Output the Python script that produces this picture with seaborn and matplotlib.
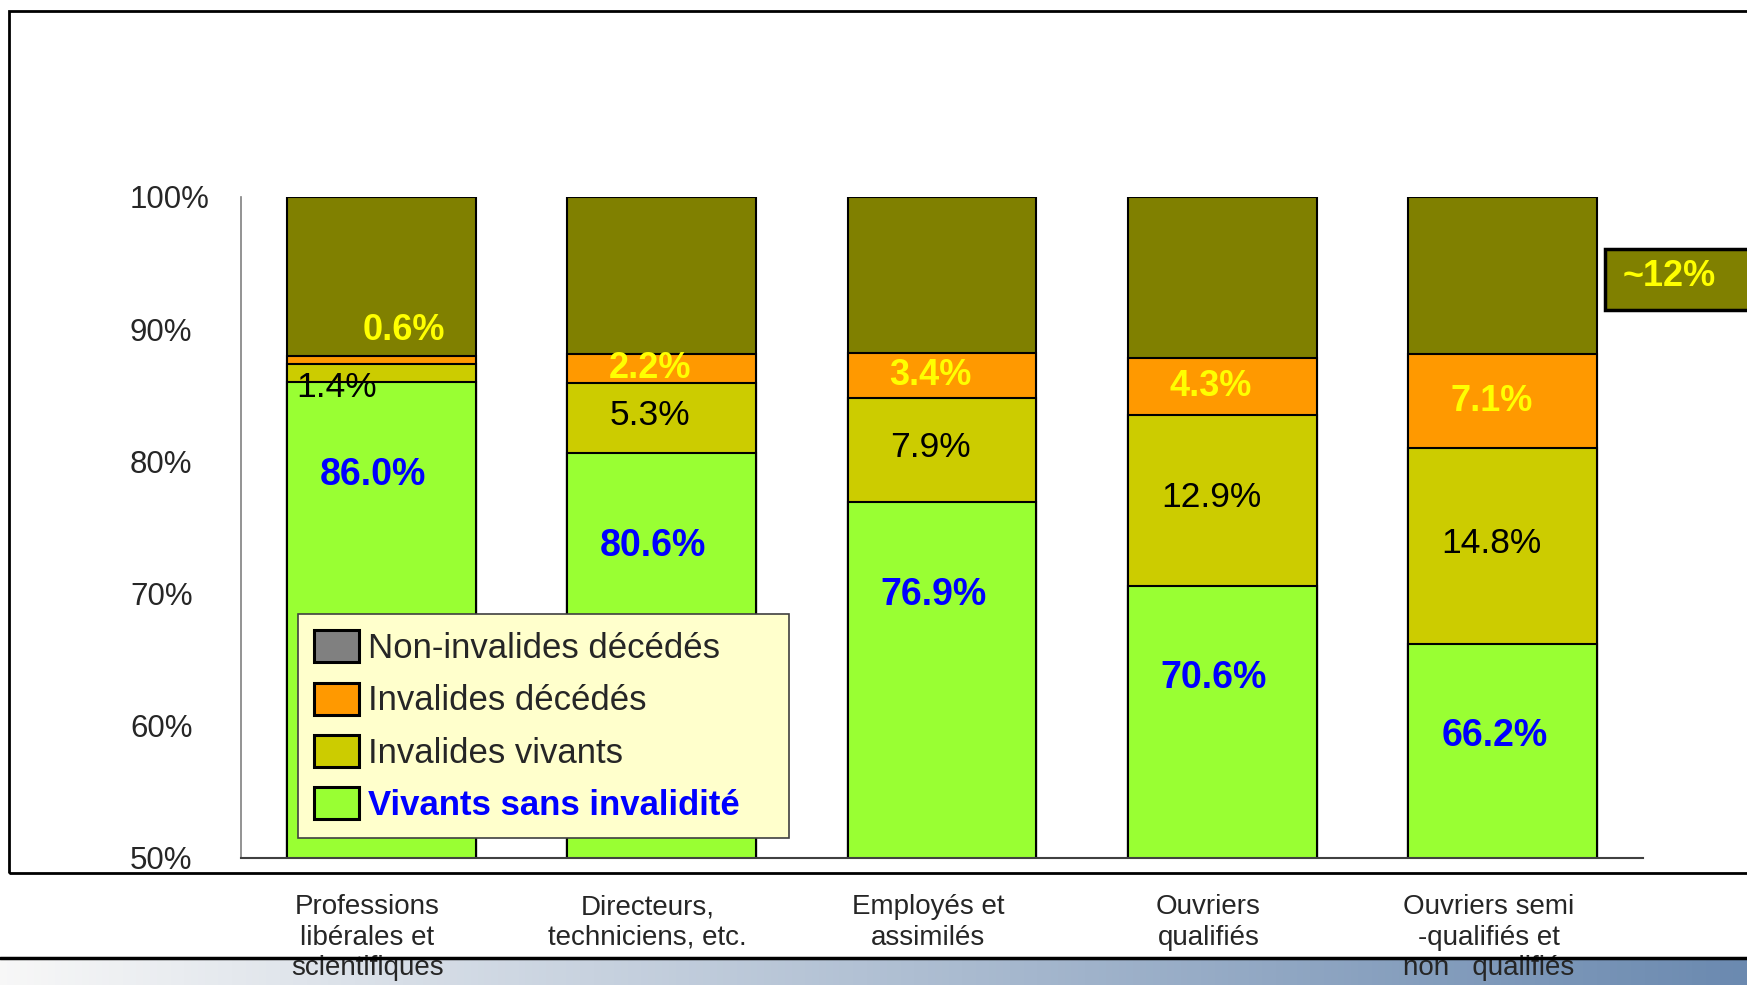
import numpy as np
import pandas as pd
import matplotlib.pyplot as plt
import matplotlib.transforms as mtransforms
import seaborn as sns
from matplotlib.patches import Patch, Rectangle
from matplotlib.lines import Line2D

categories = ['Professions\nlibérales et\nscientifiques',
              'Directeurs,\ntechniciens, etc.',
              'Employés et\nassimilés',
              'Ouvriers\nqualifiés',
              'Ouvriers semi\n-qualifiés et\nnon   qualifiés']
vivants_sans = [86.0, 80.6, 76.9, 70.6, 66.2]
invalides_vivants = [1.4, 5.3, 7.9, 12.9, 14.8]
invalides_decedes = [0.6, 2.2, 3.4, 4.3, 7.1]
non_invalides_decedes = [12.0, 11.9, 11.8, 12.2, 11.9]
legend_labels = ['Non-invalides décédés', 'Invalides décédés',
                 'Invalides vivants', 'Vivants sans invalidité']
y_ticks = [50, 60, 70, 80, 90, 100]

c_olive = '#808000'
c_orange = '#FF9900'
c_yellow = '#CCCC00'
c_green = '#99FF33'

sns.set_style('white')
plt.rcParams['font.family'] = ['Liberation Sans', 'DejaVu Sans']

df = pd.DataFrame({'cat': categories, 'green': vivants_sans,
                   'yel': invalides_vivants, 'org': invalides_decedes,
                   'oli': non_invalides_decedes})
df['c_yel'] = df['green'] + df['yel']
df['c_org'] = df['c_yel'] + df['org']
df['c_oli'] = df['c_org'] + df['oli']

W, H = 1747, 985
fig = plt.figure(figsize=(W / 100, H / 100), dpi=100)
ax = fig.add_axes([241 / W, 1 - 858 / H, (1643 - 241) / W, (858 - 197) / H])

# stacked bars: draw cumulative totals from the top layer down
for col, colr in [('c_oli', c_olive), ('c_org', c_orange), ('c_yel', c_yellow), ('green', c_green)]:
    sns.barplot(data=df, x='cat', y=col, color=colr, saturation=1, width=0.674,
                edgecolor='black', linewidth=1.5, ax=ax)

ax.set_xlim(-0.5, 4.5)
ax.set_ylim(50, 100)
ax.set_xlabel('')
ax.set_ylabel('')
ax.set_yticks(y_ticks)
ax.set_yticklabels([f'{v}%' for v in y_ticks])
ax.tick_params(axis='y', direction='in', length=11, color='#808080', pad=80, labelsize=22.5)
ax.tick_params(axis='x', length=0, pad=26, labelsize=20)
shift = mtransforms.ScaledTranslation(-14 / 100, 0, fig.dpi_scale_trans)
for lbl in ax.get_xticklabels():
    lbl.set_linespacing(1.22)
    lbl.set_transform(lbl.get_transform() + shift)
for s in ['top', 'right']:
    ax.spines[s].set_visible(False)
ax.spines['left'].set_color('#808080')
ax.spines['bottom'].set_color('#404040')
ax.spines['left'].set_linewidth(1.2)
ax.spines['bottom'].set_linewidth(1.5)

# value labels
for i in range(len(categories)):
    g, yv, o = vivants_sans[i], invalides_vivants[i], invalides_decedes[i]
    ax.text(i - 0.03, g - 7, f'{g:.1f}%', color='#0000FF', fontsize=27, fontweight='bold',
            ha='center', va='center')
    if yv < 2:
        ax.text(i - 0.16, g - 0.4, f'{yv:.1f}%', color='black', fontsize=25.5, ha='center', va='center')
    else:
        ax.text(i - 0.04, g + yv / 2 + 0.2, f'{yv:.1f}%', color='black', fontsize=25.5,
                ha='center', va='center')
    if o < 1:
        ax.text(i + 0.08, g + yv + o + 1.9, f'{o:.1f}%', color='#FFFF00', fontsize=26,
                fontweight='bold', ha='center', va='center')
    else:
        ax.text(i - 0.04, g + yv + o / 2, f'{o:.1f}%', color='#FFFF00', fontsize=26,
                fontweight='bold', ha='center', va='center')

# legend
handles = [Patch(facecolor=c, edgecolor='black', linewidth=2.2)
           for c in ['#808080', c_orange, c_yellow, c_green]]
leg = ax.legend(handles, legend_labels, loc='upper left',
                bbox_to_anchor=(298 / W, 1 - 614 / H, (789 - 298) / W, 0),
                bbox_transform=fig.transFigure, mode='expand', borderaxespad=0, fontsize=25,
                handlelength=1.3, handleheight=1.04, handletextpad=0.25, labelspacing=0.5,
                borderpad=0.47, fancybox=False, framealpha=1, facecolor='#FFFFCC',
                edgecolor='#404040')
leg.get_frame().set_linewidth(1.2)
last = leg.get_texts()[-1]
last.set_color('#0000FF')
last.set_fontweight('bold')

# "~12%" callout box
fig.patches.append(Rectangle((1605 / W, 1 - 310 / H), 0.2, 61 / H, transform=fig.transFigure,
                             facecolor=c_olive, edgecolor='black', linewidth=2.5))
fig.text(1623 / W, 1 - 276 / H, '~12%', color='#FFFF00', fontsize=26, fontweight='bold',
         ha='left', va='center')

# outer frame
fig.patches.append(Rectangle((9 / W, 1 - 873 / H), 1.2, (873 - 11) / H, transform=fig.transFigure,
                             fill=False, edgecolor='black', linewidth=2))

# bottom banner
axb = fig.add_axes([0, 0, 1, 28 / H], zorder=-1)
grad = np.linspace(0, 1, 256)
c0 = np.array([0.97, 0.97, 0.97])
c1 = np.array([0.42, 0.54, 0.69])
img = c0[None, :] * (1 - grad[:, None]) + c1[None, :] * grad[:, None]
axb.imshow(img[None, :, :], aspect='auto', extent=[0, 1, 0, 1])
axb.axis('off')
fig.lines.append(Line2D([0, 1], [1 - 958 / H, 1 - 958 / H], transform=fig.transFigure,
                        color='black', linewidth=2.5))

for lbl in ax.get_yticklabels():
    lbl.set_horizontalalignment('left')

fig.savefig('out.png', dpi=100)
